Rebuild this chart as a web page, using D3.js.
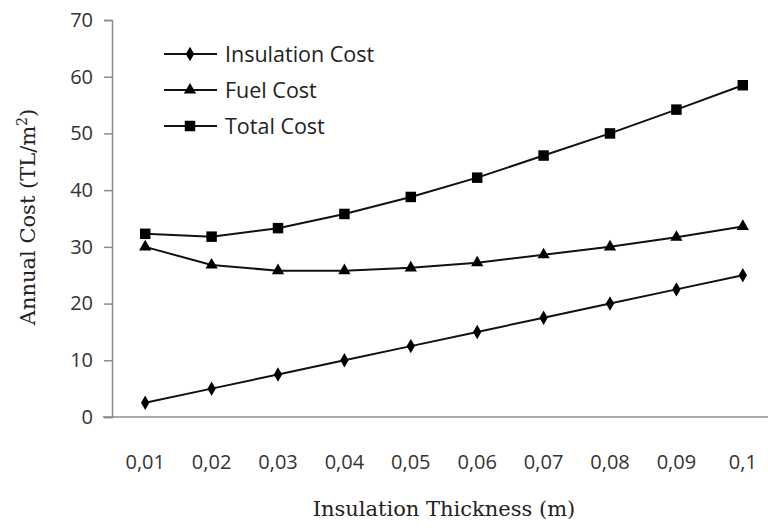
<!DOCTYPE html>
<html>
<head>
<meta charset="utf-8">
<script src="https://cdn.jsdelivr.net/npm/d3@7"></script>
<style>
html,body{margin:0;padding:0;background:#fff;}
svg{display:block;}
</style>
</head>
<body>
<svg id="chart" width="768" height="528"></svg>
<script>
const categories = ["0,01","0,02","0,03","0,04","0,05","0,06","0,07","0,08","0,09","0,1"];
const insulationCost = [2.5, 5, 7.5, 10, 12.5, 15, 17.5, 20, 22.5, 25];
const fuelCost = [30, 26.8, 25.8, 25.8, 26.3, 27.2, 28.6, 30, 31.7, 33.6];
const totalCost = [32.3, 31.8, 33.3, 35.8, 38.8, 42.2, 46.1, 50, 54.2, 58.5];
const yTicks = [0, 10, 20, 30, 40, 50, 60, 70];
const seriesNames = ["Insulation Cost", "Fuel Cost", "Total Cost"];

(function () {
const svg = d3.select("#chart");
const pL = 112, pR = 776, pT = 20, pB = 417;
const x = d3.scaleBand().domain(categories).range([pL, pR]);
const y = d3.scaleLinear().domain([0, 70]).range([pB, pT]);
const tickFont = "'Open Sans', Lato, sans-serif";
const serifFont = "'DejaVu Serif', 'Liberation Serif', serif";
const axisColor = "#8c8c8c";

// Y axis
const yAxis = svg.append("g").attr("transform", `translate(${pL},0)`)
  .call(d3.axisLeft(y).tickValues(yTicks).tickSize(8).tickPadding(11).tickFormat(d3.format("d")));
yAxis.select(".domain").attr("stroke", axisColor).attr("stroke-width", 1.5);
yAxis.selectAll(".tick line").attr("stroke", axisColor).attr("stroke-width", 1.5);
yAxis.selectAll("text").attr("font-family", tickFont).attr("font-size", 20).attr("fill", "#333");

// X axis
const xAxis = svg.append("g").attr("transform", `translate(0,${pB})`)
  .call(d3.axisBottom(x).tickSize(0).tickPadding(38));
xAxis.select(".domain").attr("d", `M${pL-9},0H${pR}`).attr("stroke", axisColor).attr("stroke-width", 1.5);
xAxis.selectAll("text").attr("font-family", tickFont).attr("font-size", 20).attr("fill", "#333");

// Axis titles
svg.append("text").attr("x", 444).attr("y", 516).attr("text-anchor", "middle")
  .attr("font-family", serifFont).attr("font-size", 21).attr("fill", "#222")
  .text("Insulation Thickness (m)");
const yt = svg.append("text").attr("transform", "translate(35,217) rotate(-90)").attr("text-anchor", "middle")
  .attr("font-family", serifFont).attr("font-size", 21).attr("fill", "#222");
yt.append("tspan").text("Annual Cost (TL/m");
yt.append("tspan").attr("dy", -8).attr("font-size", 14).text("2");
yt.append("tspan").attr("dy", 8).text(")");

// Markers
const diamond = d3.symbol().type(d3.symbolDiamond).size(60);
const triangle = d3.symbol().type(d3.symbolTriangle).size(65);
const square = d3.symbol().type(d3.symbolSquare).size(110);
const series = [
  {name: seriesNames[0], values: insulationCost, sym: diamond},
  {name: seriesNames[1], values: fuelCost, sym: triangle},
  {name: seriesNames[2], values: totalCost, sym: square}
];
const line = d3.line().x((d, i) => x(categories[i]) + x.bandwidth() / 2).y(d => y(d));

series.forEach(s => {
  svg.append("path").datum(s.values).attr("d", line)
    .attr("fill", "none").attr("stroke", "#111").attr("stroke-width", 2);
  svg.selectAll(null).data(s.values).enter().append("path")
    .attr("d", s.sym)
    .attr("transform", (d, i) => `translate(${x(categories[i]) + x.bandwidth() / 2},${y(d)})`)
    .attr("fill", "#000");
});

// Legend
const legend = svg.append("g");
series.forEach((s, i) => {
  const ly = 54 + i * 36;
  legend.append("line").attr("x1", 164).attr("x2", 217).attr("y1", ly).attr("y2", ly)
    .attr("stroke", "#111").attr("stroke-width", 2);
  legend.append("path").attr("d", s.sym).attr("transform", `translate(190,${ly})`).attr("fill", "#000");
  legend.append("text").attr("x", 225).attr("y", ly).attr("dy", "0.35em")
    .attr("font-family", tickFont).attr("font-size", 21.5).attr("fill", "#222").text(s.name);
});
})();
</script>
</body>
</html>
